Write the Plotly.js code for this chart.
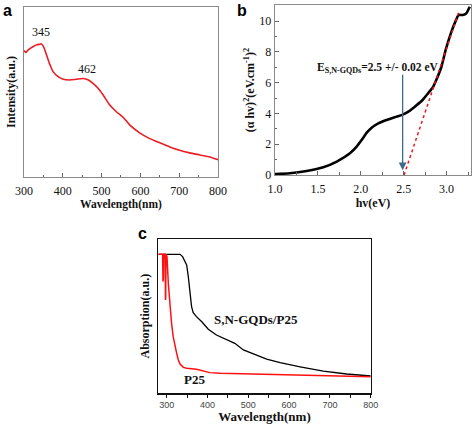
<!DOCTYPE html>
<html><head><meta charset="utf-8">
<script src="https://cdn.plot.ly/plotly-3.0.1.min.js"></script>
<style>html,body{margin:0;padding:0;background:#fff}#c{width:472px;height:424px}</style>
</head><body><div id="c"></div>
<script>
// Panel a: intensity vs wavelength
const aWl = [300,305,311,324,333,341,345,350,358,367,375,388,401,418,435,453,466,478,491,504,521,538,556,573,598,624,650,676,701,727,753,779,800];
const aInt = [74.4,73.2,74.8,76.8,77.8,78.1,78.3,76.8,71.9,66,62,59,57.5,57.1,57.5,57.9,57.1,55.1,52.2,48.2,42.3,38.4,35,30.5,26,22.6,20.1,17.7,15.7,14.2,13,11.8,10.2];
// Panel b: Tauc plot
const bHv = [1.0,1.175,1.37,1.563,1.72,1.874,1.952,2.01,2.07,2.127,2.204,2.30,2.418,2.495,2.573,2.64,2.72,2.8,2.84,2.88,2.94,2.99,3.05,3.11,3.14,3.19,3.23,3.27];
const bY = [0.06,0.11,0.26,0.5,0.87,1.41,1.84,2.27,2.75,3.07,3.35,3.57,3.79,3.94,4.18,4.48,4.87,5.41,5.69,6.17,7.03,8.12,9.2,10.06,10.39,10.39,10.5,10.93];
const fitHv = [2.505,3.14];
const fitY = [0,10.55];
// Panel c: absorption spectra
const cWlSN = [279.6,332.7,339,345,349,353,357,361,365,373,386,402,422,447,467,488,512,545,578,610,627,684,741,800];
const cAbsSN = [90.1,90.1,88.6,85.3,83.2,75.6,65.9,56.2,52.3,49.7,46.4,41.5,37.8,35,32.4,28.1,25.5,22.2,19.9,17.9,17.2,14.4,12.5,11.2];
const cWlP25 = [279.6,290,291,292,293,296.5,297,297.6,298.2,300.8,304,308,312,316,320,324.5,328.6,332.7,341,349,373,390,406,431,512,594,675.5,800];
const cAbsP25 = [90.1,90.1,72.4,75,90.1,90.1,60.5,62,90.1,88.6,71.3,56.2,45.4,36.7,30.2,25.9,21.6,19,16.8,16.2,15.6,14.7,13.4,13,12.5,12.1,11.7,10.8];

const serif = "Liberation Serif, Times New Roman, serif";
const sans = "Liberation Sans, Arial, sans-serif";
const red = "#ea1c24";

const traces = [
  {x:aWl, y:aInt, xaxis:'x', yaxis:'y', mode:'lines', line:{color:red,width:1.6,shape:'spline',smoothing:0.6}, hoverinfo:'skip'},
  {x:bHv, y:bY, xaxis:'x2', yaxis:'y2', mode:'lines', line:{color:'#000',width:2.6,shape:'spline',smoothing:0.5}, hoverinfo:'skip'},
  {x:fitHv, y:fitY, xaxis:'x2', yaxis:'y2', mode:'lines', line:{color:'#f0141e',width:1.5,dash:'dot'}, hoverinfo:'skip'},
  {x:cWlSN, y:cAbsSN, xaxis:'x3', yaxis:'y3', mode:'lines', line:{color:'#000',width:1.3}, hoverinfo:'skip'},
  {x:cWlP25, y:cAbsP25, xaxis:'x3', yaxis:'y3', mode:'lines', line:{color:'#ff1010',width:1.5}, hoverinfo:'skip'}
];

const axA = {showline:true, mirror:true, linecolor:'#8a8a8a', linewidth:1.3, zeroline:false, showgrid:false};
const axC = {showline:true, mirror:true, linecolor:'#111', linewidth:1.3, zeroline:false, showgrid:false};
const tf = {family:serif, size:12, color:'#111'};

const layout = {
  width:472, height:424, margin:{l:0,r:0,t:0,b:0}, showlegend:false,
  paper_bgcolor:'#fff', plot_bgcolor:'#fff',
  xaxis: Object.assign({}, axA, {domain:[0.0508,0.4619], anchor:'y', range:[300,800], tickvals:[300,400,500,600,700,800], ticks:'inside', ticklen:4, tickcolor:'#666',
    minor:{ticks:'inside', ticklen:2.5, dtick:50, tick0:300, tickcolor:'#666'}, ticklabelstandoff:2,
    tickfont:tf, title:{text:'<b>Wavelength(nm)</b>', font:{family:serif,size:11.5,color:'#111'}, standoff:2}}),
  yaxis: Object.assign({}, axA, {domain:[0.5825,0.9835], anchor:'x', range:[0,100], showticklabels:false, ticks:'',
    title:{text:'<b>Intensity(a.u.)</b>', font:{family:serif,size:12,color:'#111'}, standoff:4}}),
  xaxis2: Object.assign({}, axA, {domain:[0.5826,0.9979], anchor:'y2', range:[1.0,3.285], tickvals:[1.0,1.5,2.0,2.5,3.0], ticktext:['1.0','1.5','2.0','2.5','3.0'], ticks:'inside', ticklen:4, tickcolor:'#666',
    minor:{ticks:'inside', ticklen:2.5, dtick:0.25, tick0:1, tickcolor:'#666'}, ticklabelstandoff:2,
    tickfont:tf, title:{text:'<b>hv(eV)</b>', font:{family:serif,size:12,color:'#111'}, standoff:2}}),
  yaxis2: Object.assign({}, axA, {domain:[0.5873,0.9882], anchor:'x2', range:[0,11.04], tickvals:[0,2,4,6,8,10], ticks:'inside', ticklen:4, tickcolor:'#666',
    minor:{ticks:'inside', ticklen:2.5, dtick:1, tick0:0, tickcolor:'#666'},
    tickfont:tf, title:{text:'<b>(α hv)<sup>2</sup>(eV.cm<sup>-1</sup>)<sup>2</sup></b>', font:{family:serif,size:12,color:'#111'}, standoff:2}}),
  xaxis3: Object.assign({}, axC, {domain:[0.3354,0.7854], anchor:'y3', range:[279.5,800], tickvals:[300,400,500,600,700,800], ticks:'outside', ticklen:3, tickcolor:'#111',
    minor:{ticks:'outside', ticklen:3, dtick:50, tick0:300, tickcolor:'#111'},
    tickfont:{family:sans,size:9,color:'#444'}, title:{text:'<b>Wavelength(nm)</b>', font:{family:serif,size:13,color:'#111'}, standoff:2}}),
  yaxis3: Object.assign({}, axC, {domain:[0.0724,0.4363], anchor:'x3', range:[0,100], showticklabels:false, ticks:'',
    title:{text:'<b>Absorption(a.u.)</b>', font:{family:serif,size:12,color:'#111'}, standoff:4}}),
  annotations:[
    {xref:'paper',yref:'paper',x:7/472,y:1-10/424,text:'<b>a</b>',showarrow:false,font:{family:sans,size:16,color:'#000'},xanchor:'center',yanchor:'middle'},
    {xref:'paper',yref:'paper',x:242/472,y:1-10/424,text:'<b>b</b>',showarrow:false,font:{family:sans,size:16,color:'#000'},xanchor:'center',yanchor:'middle'},
    {xref:'paper',yref:'paper',x:142/472,y:1-233/424,text:'<b>c</b>',showarrow:false,font:{family:sans,size:16,color:'#000'},xanchor:'center',yanchor:'middle'},
    {xref:'x',yref:'y',x:345,y:85.5,text:'345',showarrow:false,font:{family:serif,size:12,color:'#111'}},
    {xref:'x',yref:'y',x:462,y:63.5,text:'462',showarrow:false,font:{family:serif,size:12,color:'#111'}},
    {xref:'x2',yref:'y2',x:1.47,y:6.95,xanchor:'left',text:'<b>E<sub>S,N-GQDs</sub>=2.5 +/- 0.02 eV</b>',showarrow:false,font:{family:serif,size:11.5,color:'#111'}},
    {xref:'x2',yref:'y2',axref:'x2',ayref:'y2',x:2.488,y:0.3,ax:2.488,ay:6.6,text:'',showarrow:true,arrowhead:2,arrowsize:1.2,arrowwidth:1.3,arrowcolor:'#3d6b8c'},
    {xref:'x3',yref:'y3',x:520,y:48,text:'<b>S,N-GQDs/P25</b>',showarrow:false,font:{family:serif,size:13,color:'#111'}},
    {xref:'x3',yref:'y3',x:369,y:9,text:'<b>P25</b>',showarrow:false,font:{family:serif,size:13,color:'#111'}}
  ]
};
Plotly.newPlot('c', traces, layout, {staticPlot:true, displayModeBar:false});
</script></body></html>
